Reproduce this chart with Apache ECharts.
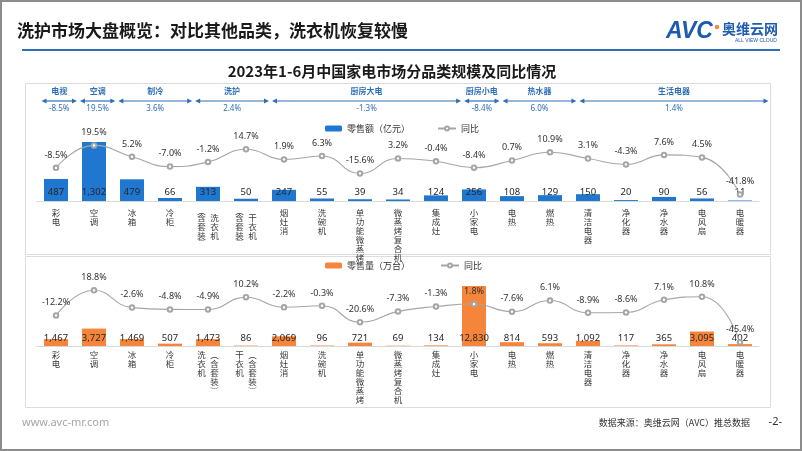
<!DOCTYPE html>
<html><head><meta charset="utf-8">
<script src="https://cdn.jsdelivr.net/npm/echarts@6/dist/echarts.min.js"></script>
<style>html,body{margin:0;padding:0;background:#fff}#c{width:802px;height:451px}</style>
</head><body><div id="c"></div>
<script>
const categories = ['彩电','空调','冰箱','冷柜','洗衣机（含套装）','干衣机（含套装）','烟灶消','洗碗机','单功能微蒸烤','微蒸烤复合机','集成灶','小家电','电热','燃热','清洁电器','净化器','净水器','电风扇','电暖器'];
const salesValue = [487,1302,479,66,313,50,247,55,39,34,124,256,108,129,150,20,90,56,11];
const salesValueYoY = [-8.5,19.5,5.2,-7.0,-1.2,14.7,1.9,6.3,-15.6,3.2,-0.4,-8.4,0.7,10.9,3.1,-4.3,7.6,4.5,-41.8];
const salesVolume = [1467,3727,1469,507,1473,86,2069,96,721,69,134,12830,814,593,1092,117,365,3095,402];
const salesVolumeYoY = [-12.2,18.8,-2.6,-4.8,-4.9,10.2,-2.2,-0.3,-20.6,-7.3,-1.3,1.8,-7.6,6.1,-8.9,-8.6,7.1,10.8,-45.4];
const groupNames = ['电视','空调','制冷','洗护','厨房大电','厨房小电','热水器','生活电器'];
const groupYoY = ['-8.5%','19.5%','3.6%','2.4%','-1.3%','-8.4%','6.0%','1.4%'];
const groupFirst = [0,1,2,4,6,11,12,14];
const groupLast = [0,1,3,5,10,11,13,18];

const CJK = '"Noto Sans CJK SC", "Noto Sans", sans-serif';
const NUM = '"Noto Sans", "Noto Sans CJK SC", sans-serif';
const BLUE = '#1f77cf', ORANGE = '#f5853a', GREY = '#a6a6a6', HEAD = '#2e70b8';

function splitName(name) {
  const k = name.indexOf('（');
  if (k < 0) return null;
  return { main: name.slice(0, k).split(''), inner: name.slice(k + 1, name.length - 1).split('') };
}
function labelTop(name) {
  const s = splitName(name);
  if (!s) return name.split('').map(ch => '{c|' + ch + '}').join('\n');
  const rows = ['{p|︵}{p|　}'];
  for (let i = 0; i < Math.max(s.main.length, s.inner.length); i++) {
    rows.push('{c|' + (s.inner[i] || '　') + '}{c|' + (s.main[i] || '　') + '}');
  }
  rows.push('{p|︶}{p|　}');
  return rows.join('\n');
}
function labelBottom(name) {
  const s = splitName(name);
  if (!s) return name.split('').map(ch => '{c|' + ch + '}').join('\n');
  const par = ['︵'].concat(s.inner, ['︶']);
  const rows = [];
  for (let i = 0; i < Math.max(s.main.length, par.length); i++) {
    rows.push('{c|' + (s.main[i] || '　') + '}{c|' + (par[i] || '　') + '}');
  }
  return rows.join('\n');
}
const rich = {
  c: { fontSize: 8.5, lineHeight: 9, width: 13, align: 'center', color: '#3a3a3a', fontFamily: CJK },
  p: { fontSize: 8.5, lineHeight: 5, width: 13, align: 'center', color: '#3a3a3a', fontFamily: CJK }
};
const fmtNum = v => Number(v).toLocaleString('en-US');
const fmtPct = v => Number(v).toFixed(1) + '%';

function xAx(grid, fmt, margin) {
  return {
    type: 'category', gridIndex: grid, data: categories,
    axisLine: { lineStyle: { color: '#d9d9d9', width: 1 } },
    axisTick: { show: false },
    axisLabel: { interval: 0, margin: margin, formatter: fmt, rich: rich, verticalAlign: 'top' }
  };
}
function barSeries(name, data, xi, yi, color, dist) {
  return {
    name: name, type: 'bar', xAxisIndex: xi, yAxisIndex: yi, data: data, barWidth: 24,
    itemStyle: { color: color },
    label: { show: true, position: 'insideBottom', distance: dist, color: '#262626', fontSize: 9.5, fontFamily: NUM,
      formatter: p => fmtNum(p.value) },
    z: 2
  };
}
function lineSeries(data, xi, yi) {
  return {
    name: '同比', type: 'line', xAxisIndex: xi, yAxisIndex: yi, data: data, smooth: true,
    symbol: 'emptyCircle', symbolSize: 4.5,
    lineStyle: { color: GREY, width: 1.1 },
    itemStyle: { color: GREY, borderColor: GREY, borderWidth: 1 },
    label: { show: true, position: 'top', distance: 5, color: '#333', fontSize: 9, fontFamily: NUM,
      formatter: p => fmtPct(p.value) },
    z: 3
  };
}
const legendText = { fontSize: 9, color: '#333', fontFamily: CJK };

const chart = echarts.init(document.getElementById('c'), null, { renderer: 'canvas' });
chart.setOption({
  animation: false,
  backgroundColor: '#fff',
  grid: [
    { left: 37, right: 43, top: 121, height: 80, outerBoundsMode: 'none' },
    { left: 37, right: 43, top: 265, height: 81, outerBoundsMode: 'none' },
    { left: 40, right: 32, top: 96, height: 5, outerBoundsMode: 'none' }
  ],
  xAxis: [
    xAx(0, labelTop, 7),
    xAx(1, labelBottom, 4),
    { type: 'category', gridIndex: 2, data: categories, show: false }
  ],
  yAxis: [
    { type: 'value', gridIndex: 0, min: 0, max: 1766, show: false, splitLine: { show: false } },
    { type: 'value', gridIndex: 0, min: -50, max: 50, show: false, splitLine: { show: false } },
    { type: 'value', gridIndex: 1, min: 0, max: 17330, show: false, splitLine: { show: false } },
    { type: 'value', gridIndex: 1, min: -50, max: 50, show: false, splitLine: { show: false } },
    { type: 'value', gridIndex: 2, min: 0, max: 1, show: false, splitLine: { show: false } }
  ],
  legend: [
    { data: ['零售额（亿元）'], left: 325, top: 124, padding: 0, itemWidth: 17, itemHeight: 6, itemGap: 3, textStyle: legendText, selectedMode: false },
    { data: ['同比'], left: 437, top: 124, padding: 0, itemWidth: 18, itemHeight: 5, textStyle: legendText, selectedMode: false },
    { data: ['零售量（万台）'], left: 325, top: 261, padding: 0, itemWidth: 17, itemHeight: 6, textStyle: legendText, selectedMode: false },
    { data: ['同比'], left: 440, top: 261, padding: 0, itemWidth: 18, itemHeight: 5, textStyle: legendText, selectedMode: false }
  ],
  series: [
    barSeries('零售额（亿元）', salesValue, 0, 0, BLUE, 4),
    lineSeries(salesValueYoY, 0, 1),
    barSeries('零售量（万台）', salesVolume, 1, 2, ORANGE, 3),
    lineSeries(salesVolumeYoY, 1, 3),
    {
      type: 'custom', xAxisIndex: 2, yAxisIndex: 4, silent: true,
      encode: { x: 0, y: 1 },
      data: groupNames.map((n, i) => [groupFirst[i], 0, groupLast[i]]),
      renderItem: function (params, api) {
        const i = params.dataIndex;
        const a = api.coord([api.value(0), 0]);
        const b = api.coord([api.value(2), 0]);
        const band = api.size([1, 0])[0];
        const x0 = a[0] - band / 2 + 1.5, x1 = b[0] + band / 2 - 1.5, y = a[1];
        const mid = (x0 + x1) / 2;
        return {
          type: 'group',
          children: [
            { type: 'line', shape: { x1: x0 + 3, y1: y, x2: x1 - 3, y2: y }, style: { stroke: HEAD, lineWidth: 1.2 } },
            { type: 'polygon', shape: { points: [[x0, y], [x0 + 5, y - 2.5], [x0 + 5, y + 2.5]] }, style: { fill: HEAD } },
            { type: 'polygon', shape: { points: [[x1, y], [x1 - 5, y - 2.5], [x1 - 5, y + 2.5]] }, style: { fill: HEAD } },
            { type: 'text', style: { text: groupNames[i], x: mid, y: y - 10, fill: HEAD, font: 'bold 8px ' + CJK,
              textAlign: 'center', textVerticalAlign: 'middle', align: 'center', verticalAlign: 'middle' } },
            { type: 'text', style: { text: groupYoY[i], x: mid, y: y + 8, fill: HEAD, font: '8px ' + NUM,
              textAlign: 'center', textVerticalAlign: 'middle', align: 'center', verticalAlign: 'middle' } }
          ]
        };
      }
    }
  ],
  graphic: [
    { type: 'rect', z: -10, shape: { x: 1, y: 1, width: 800, height: 449 }, style: { fill: 'none', stroke: '#8c8c8c', lineWidth: 2 } },
    { type: 'text', left: 17, top: 22, style: { text: '洗护市场大盘概览：对比其他品类，洗衣机恢复较慢', font: 'bold 17px ' + CJK, fill: '#1a1a1a' } },
    { type: 'rect', z: -5, shape: { x: 22, y: 49, width: 758, height: 2 }, style: { fill: '#2f6db5' } },
    { type: 'text', left: 666, top: 20, style: { text: 'AVC', font: 'italic bold 23px "Liberation Sans", sans-serif', fill: '#1d5bb0' } },
    { type: 'circle', shape: { cx: 717, cy: 27, r: 2.2 }, style: { fill: '#f5853a' } },
    { type: 'text', left: 722, top: 22, style: { text: '奥维云网', font: 'bold 14px ' + CJK, fill: '#1d5bb0' } },
    { type: 'text', left: 735, top: 38, style: { text: 'ALL VIEW CLOUD', font: '5px "Liberation Sans", sans-serif', fill: '#1d5bb0' } },
    { type: 'text', x: 392, y: 71, style: { text: '2023年1-6月中国家电市场分品类规模及同比情况', font: 'bold 15px ' + CJK, fill: '#1a1a1a', textAlign: 'center', textVerticalAlign: 'middle', align: 'center', verticalAlign: 'middle' } },
    { type: 'rect', z: -10, shape: { x: 25.5, y: 83.5, width: 745, height: 171 }, style: { fill: 'none', stroke: '#dcdcdc', lineWidth: 1 } },
    { type: 'rect', z: -10, shape: { x: 25.5, y: 256.5, width: 745, height: 151 }, style: { fill: 'none', stroke: '#dcdcdc', lineWidth: 1 } },
    { type: 'text', left: 22, top: 417, style: { text: 'www.avc-mr.com', font: '11px ' + NUM, fill: '#a6a6a6' } },
    { type: 'text', right: 52, top: 418, style: { text: '数据来源：奥维云网（AVC）推总数据', font: '9px ' + CJK, fill: '#333' } },
    { type: 'text', right: 20, top: 416, style: { text: '-2-', font: '11px ' + NUM, fill: '#333' } }
  ]
});
</script>
</body></html>
